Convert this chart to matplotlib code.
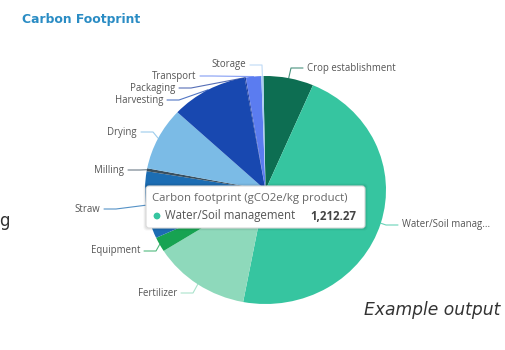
import numpy as np
import matplotlib
matplotlib.use("Agg")
import matplotlib.pyplot as plt
from matplotlib.patches import FancyBboxPatch

# ---------- data -------------------------------------------------------------
stages = ["Crop establishment", "Water/Soil management", "Fertilizer", "Equipment",
          "Straw", "Milling", "Drying", "Harvesting", "Packaging", "Transport",
          "Storage"]
footprint = [175.1, 1212.27, 340.2, 54.3, 248.2, 10.9, 231.6, 267.8, 4.3, 53.6, 7.2]
colors = ["#0d6e52", "#36c5a0", "#8ed9bb", "#17a352", "#1c6db3", "#3a4f5e",
          "#7bbbe6", "#1848b0", "#1e3e9e", "#5b7cf0", "#a9cdf2"]
short = {"Water/Soil management": "Water/Soil manag..."}

# label anchor (px): x = text edge next to the line, y = text centre
label_px = [(307, 68), (402, 225), (177, 293), (140, 251), (100, 209), (124, 170),
            (137, 132), (163, 100), (175, 88), (196, 76), (246, 65)]

W, H = 506, 350
SX = 1.057                      # source picture is slightly stretched horizontally
CX, CY, R = 265.5, 190, 114     # pie centre / radius in px


def P(x, y):
    return x / SX, H - y


TXT = "#555555"

fig = plt.figure(figsize=(W / 100, H / 100), dpi=100, facecolor="white")
ax = fig.add_axes([0, 0, 1, 1])
wedges, _ = ax.pie(footprint, colors=colors, startangle=91, counterclock=False,
                   center=P(CX, CY), radius=R,
                   wedgeprops=dict(linewidth=0))
ax.set_aspect("auto")
ax.set_xlim(0, W / SX); ax.set_ylim(0, H); ax.axis("off")

# leader lines + labels
for w, name, (lx, ly), c in zip(wedges, stages, label_px, colors):
    mid = np.deg2rad((w.theta1 + w.theta2) / 2)
    ax_, ay_ = w.center[0] + R * np.cos(mid), w.center[1] + R * np.sin(mid)
    right = np.cos(mid) > 0
    tx, ty = P(lx, ly)
    ex = tx - 4 / SX if right else tx + 4 / SX
    elb = ex - 12 / SX if right else ex + 12 / SX
    ax.plot([ax_, elb, ex], [ay_, ty, ty], color=c, lw=0.8, alpha=0.75,
            solid_capstyle="round", zorder=1)
    ax.text(tx, ty, short.get(name, name), ha="left" if right else "right",
            va="center", fontsize=6.9, color=TXT, family="Open Sans")

# tooltip
bx0, by0, bx1, by1 = 146, 186, 365, 228
for off, a in [(2.5, 0.04), (1.5, 0.06)]:
    ax.add_patch(FancyBboxPatch(P(bx0 - off, by1 + off), (bx1 - bx0 + 2 * off) / SX,
                                by1 - by0 + 2 * off, boxstyle="round,pad=0,rounding_size=3",
                                fc="black", ec="none", alpha=a, zorder=4))
ax.add_patch(FancyBboxPatch(P(bx0, by1), (bx1 - bx0) / SX, by1 - by0,
                            boxstyle="round,pad=0,rounding_size=3",
                            fc="white", ec="#d9d9d9", lw=0.8, zorder=5))
ax.text(*P(152, 199), "Carbon footprint (gCO2e/kg product)", fontsize=8.2,
        color="#666666", va="center", family="Open Sans", zorder=6)
ax.scatter(*P(157, 216), s=24, color=colors[1], zorder=6, edgecolors="none")
ax.text(*P(165, 216), stages[1], fontsize=8.3, color="#555555", va="center",
        family="Open Sans", zorder=6)
ax.text(*P(356, 216), f"{footprint[1]:,.2f}", fontsize=8.3, color="#444444",
        va="center", ha="right", fontweight="bold", family="Open Sans", zorder=6)

# titles / stray text
ax.text(*P(22, 20), "Carbon Footprint", fontsize=8.9, fontweight="bold",
        color="#2a8cc4", va="center", family="DejaVu Sans")
ax.text(*P(-1, 221), "g", fontsize=12, color="#333333", va="center", family="DejaVu Sans")
ax.text(*P(500, 310), "Example output", fontsize=12.3, style="italic",
        color="#333333", va="center", ha="right", family="DejaVu Sans")

fig.savefig("out.png", dpi=100, facecolor="white")
